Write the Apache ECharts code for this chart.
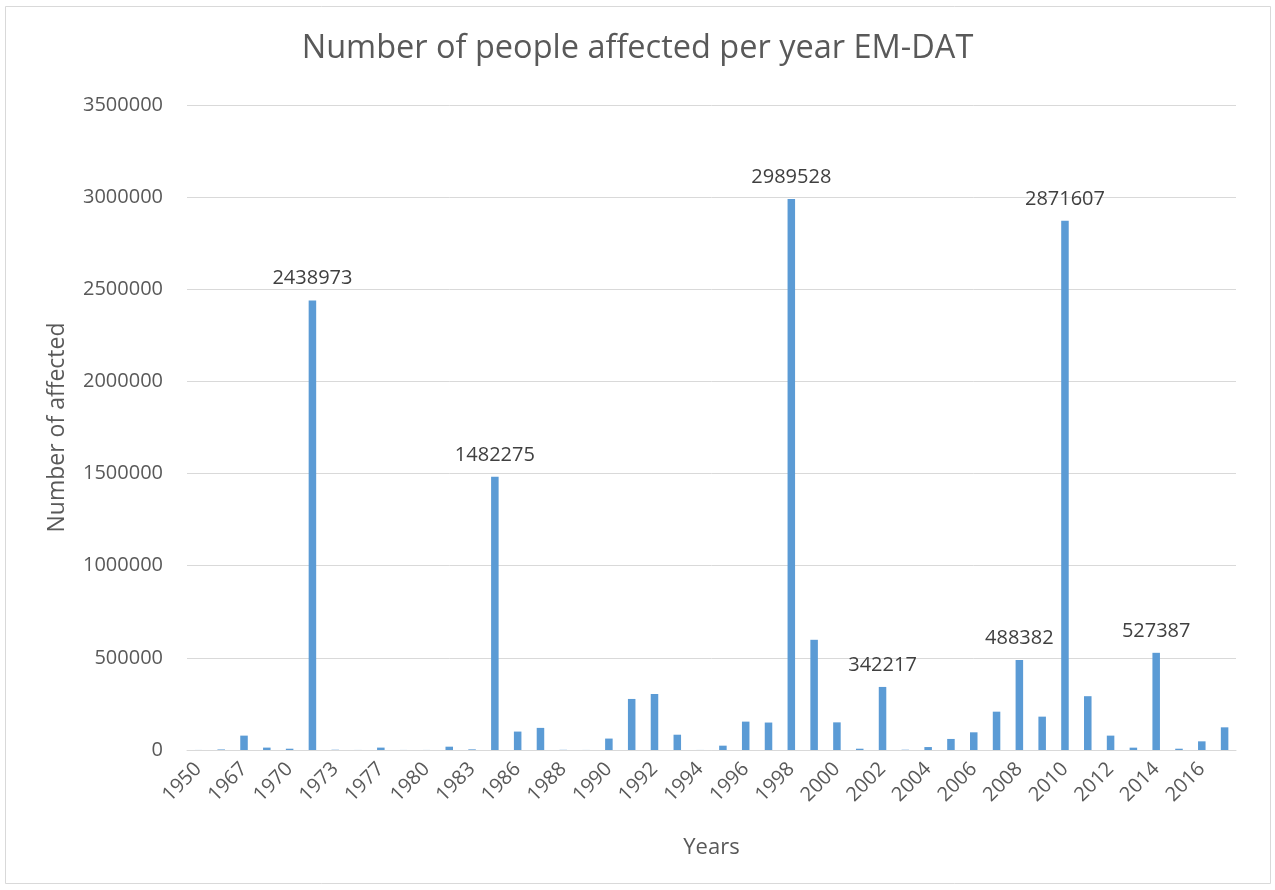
<!DOCTYPE html>
<html>
<head>
<meta charset="utf-8">
<title>Number of people affected per year EM-DAT</title>
<script src="https://cdn.jsdelivr.net/npm/echarts@6/dist/echarts.min.js"></script>
<style>
  html, body { margin: 0; padding: 0; background: #ffffff; }
  #chart { width: 1275px; height: 890px; }
</style>
</head>
<body>
<div id="chart"></div>
<script>
// Years with recorded events (only every other one is labelled on the axis)
const years = [
  '1950', '1966', '1967', '1969', '1970', '1971', '1973', '1975', '1977', '1978',
  '1980', '1982', '1983', '1984', '1986', '1987', '1988', '1989', '1990', '1991',
  '1992', '1993', '1994', '1995', '1996', '1997', '1998', '1999', '2000', '2001',
  '2002', '2003', '2004', '2005', '2006', '2007', '2008', '2009', '2010', '2011',
  '2012', '2013', '2014', '2015', '2016', '2017'
];

// Total number of people affected in each year
const affected = [
  300, 3000, 78000, 13000, 7000, 2438973, 1500, 300, 13000, 300,
  300, 18000, 3500, 1482275, 100000, 120000, 1000, 300, 62000, 277000,
  304000, 83000, 300, 23500, 154000, 149000, 2989528, 598000, 150000, 7000,
  342217, 1500, 16000, 60000, 96000, 208000, 488382, 181000, 2871607, 292000,
  78000, 12700, 527387, 7000, 47000, 123000
];

// Years whose bar carries a value label
const labelledYears = ['1971', '1984', '1998', '2002', '2008', '2010', '2014'];

// Value axis ticks
const yMin = 0;
const yMax = 3500000;
const yStep = 500000;

const barData = affected.map((v, i) => ({
  value: v,
  label: { show: labelledYears.includes(years[i]) }
}));

const chart = echarts.init(document.getElementById('chart'), null, { renderer: 'canvas' });

chart.setOption({
  animation: false,
  backgroundColor: '#ffffff',
  textStyle: { fontFamily: 'Open Sans' },
  graphic: [{
    type: 'rect',
    shape: { x: 5.5, y: 6.5, width: 1265, height: 877 },
    style: { fill: 'none', stroke: '#d9d9d9', lineWidth: 1 },
    silent: true
  }],
  title: {
    text: 'Number of people affected per year EM-DAT',
    left: 'center',
    top: 27,
    textStyle: {
      fontFamily: 'Open Sans',
      fontSize: 32.5,
      fontWeight: 'normal',
      color: '#595959'
    }
  },
  grid: {
    left: 187,
    right: 39,
    top: 105,
    bottom: 140,
    containLabel: false
  },
  xAxis: {
    type: 'category',
    data: years,
    name: 'Years',
    nameLocation: 'middle',
    nameGap: 87,
    nameTextStyle: { fontSize: 22, color: '#595959', fontFamily: 'Open Sans' },
    axisLine: { lineStyle: { color: '#d9d9d9', width: 1 } },
    axisTick: { show: false },
    axisLabel: {
      interval: 1,
      rotate: 45,
      margin: 16,
      fontSize: 20,
      color: '#595959',
      fontFamily: 'Open Sans'
    }
  },
  yAxis: {
    type: 'value',
    min: yMin,
    max: yMax,
    interval: yStep,
    name: 'Number of affected',
    nameLocation: 'middle',
    nameGap: 118,
    nameRotate: 90,
    nameTextStyle: { fontSize: 23, color: '#595959', fontFamily: 'Open Sans' },
    axisLine: { show: false },
    axisTick: { show: false },
    axisLabel: {
      margin: 24,
      fontSize: 20,
      color: '#595959',
      fontFamily: 'Open Sans',
      formatter: (v) => String(v)
    },
    splitLine: { lineStyle: { color: '#d9d9d9', width: 1 } }
  },
  series: [{
    type: 'bar',
    data: barData,
    barCategoryGap: '67%',
    itemStyle: { color: '#5b9bd5' },
    label: {
      position: 'top',
      distance: 12,
      fontSize: 20,
      color: '#404040',
      fontFamily: 'Open Sans'
    }
  }]
});
</script>
</body>
</html>
